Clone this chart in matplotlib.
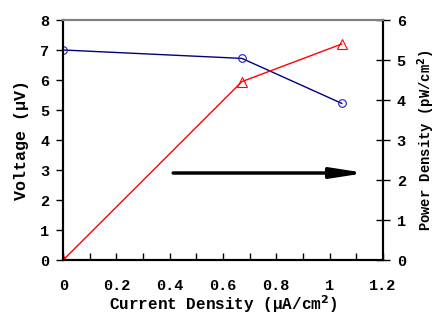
import matplotlib
matplotlib.use("Agg")
import matplotlib.pyplot as plt
from matplotlib.ticker import MultipleLocator

current = [0.0, 0.671, 1.046]
voltage = [7.0, 6.72, 5.22]
power = [0.0, 4.46, 5.4]
arrow_start = (0.413, 2.9)
arrow_end = (1.135, 2.9)

font = ['Liberation Mono', 'DejaVu Sans Mono']
plt.rcParams['font.family'] = font
plt.rcParams['font.weight'] = 'bold'
plt.rcParams['font.size'] = 11
plt.rcParams['mathtext.default'] = 'bf'

fig = plt.figure(figsize=(4.36, 3.2), dpi=100)
ax = fig.add_axes([0.145, 0.1875, 0.733, 0.75])
ax2 = ax.twinx()

ax.plot(current, voltage, color='#000080', lw=1, marker='o', ms=5.5,
        mfc='none', mec='#2020b0', mew=0.8)
ax2.plot(current, power, color='#ff0000', lw=1, marker='^', ms=6.5,
         mfc='none', mec='#ff0000', mew=0.8)

ax.set_xlim(0, 1.2)
ax.set_ylim(0, 8)
ax2.set_ylim(0, 6)
ax.xaxis.set_minor_locator(MultipleLocator(0.1))
ax.yaxis.set_major_locator(MultipleLocator(1))
ax2.yaxis.set_major_locator(MultipleLocator(1))
ax.set_xticks([0, 0.2, 0.4, 0.6, 0.8, 1.0, 1.2])
ax.set_xticklabels(['0', '0.2', '0.4', '0.6', '0.8', '1', '1.2'])

ax.tick_params(axis='x', which='both', direction='in', length=5, width=1, pad=14)
ax.tick_params(axis='y', direction='out', length=5, width=1, pad=5)
ax2.tick_params(axis='y', direction='inout', length=10, width=1, pad=5)

for a in (ax, ax2):
    a.spines['top'].set_color('#808080')
    a.spines['top'].set_linewidth(1.5)
    for s in ('left', 'right', 'bottom'):
        a.spines[s].set_linewidth(1.5)

ax.set_xlabel('Current Density (μA/cm$^{2}$)', fontweight='bold', fontsize=11.5, labelpad=0)
ax.set_ylabel('Voltage (μV)', fontweight='bold', fontsize=12, labelpad=8)
ax2.set_ylabel('Power Density (pW/cm$^{2}$)', fontweight='bold', fontsize=10, labelpad=7)

ax.annotate('', xy=arrow_end, xytext=arrow_start,
            arrowprops=dict(arrowstyle='-|>,head_length=1.8,head_width=0.28',
                            color='black', lw=2.5, shrinkA=0, shrinkB=0))

fig.savefig('out.png', dpi=100)
